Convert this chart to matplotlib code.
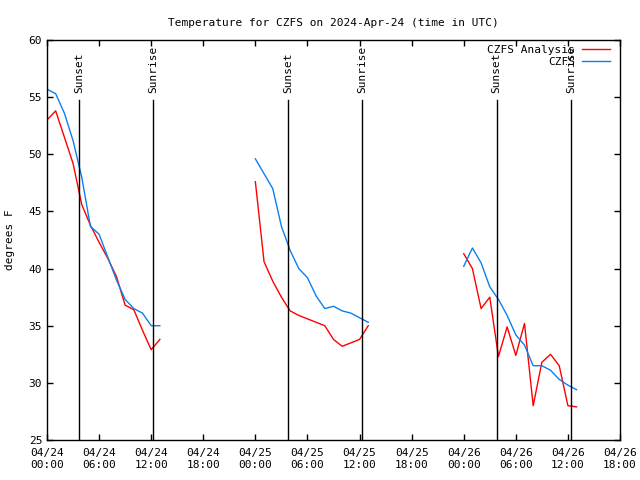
import numpy as np
import matplotlib
matplotlib.use("Agg")
import matplotlib.pyplot as plt

# hours since 2024-04-24 00:00 UTC
hours_d1 = [0, 1, 2, 3, 4, 5, 6, 7, 8, 9, 10, 11, 12, 13]
hours_d2 = [24, 25, 26, 27, 28, 29, 30, 31, 32, 33, 34, 35, 36, 37]
hours_d3 = [48, 49, 50, 51, 52, 53, 54, 55, 56, 57, 58, 59, 60, 61]

analysis_d1 = [53.0, 53.8, 51.5, 49.2, 45.6, 43.8, 42.3, 40.9, 39.3, 36.8, 36.4, 34.6, 32.9, 33.8]
analysis_d2 = [47.6, 40.6, 38.9, 37.5, 36.3, 35.9, 35.6, 35.3, 35.0, 33.8, 33.2, 33.5, 33.8, 35.0]
analysis_d3 = [41.3, 40.0, 36.5, 37.5, 32.3, 34.9, 32.4, 35.2, 28.0, 31.8, 32.5, 31.5, 28.0, 27.9]

czfs_d1 = [55.7, 55.3, 53.6, 51.2, 48.0, 43.7, 43.0, 41.0, 39.0, 37.3, 36.5, 36.1, 35.0, 35.0]
czfs_d2 = [49.6, 48.3, 47.0, 43.7, 41.6, 40.0, 39.2, 37.6, 36.5, 36.7, 36.3, 36.1, 35.7, 35.3]
czfs_d3 = [40.2, 41.8, 40.5, 38.4, 37.3, 35.9, 34.2, 33.3, 31.5, 31.5, 31.1, 30.3, 29.8, 29.4]

sunset_hours = [3.7, 27.75, 51.8]
sunrise_hours = [12.2, 36.3, 60.4]

tick_hours = list(range(0, 67, 6))
tick_labels = ["04/24\n00:00", "04/24\n06:00", "04/24\n12:00", "04/24\n18:00",
               "04/25\n00:00", "04/25\n06:00", "04/25\n12:00", "04/25\n18:00",
               "04/26\n00:00", "04/26\n06:00", "04/26\n12:00", "04/26\n18:00"]


def join(parts):
    out = []
    for i, p in enumerate(parts):
        if i > 0:
            out.append(np.nan)
        out.extend(p)
    return np.array(out, dtype=float)


plt.rcParams['font.family'] = 'DejaVu Sans Mono'
plt.rcParams['font.size'] = 8

fig = plt.figure(figsize=(6.4, 4.8), dpi=100)
ax = fig.add_axes([47 / 640, 40 / 480, 573 / 640, 400 / 480])

x = join([hours_d1, hours_d2, hours_d3])
ax.plot(x, join([analysis_d1, analysis_d2, analysis_d3]), color='#ff0000', lw=1, label='CZFS Analysis')
ax.plot(x, join([czfs_d1, czfs_d2, czfs_d3]), color='#0a80f0', lw=1, label='CZFS')

for h in sunset_hours:
    ax.plot([h, h], [25, 54.75], color='black', lw=1)
    ax.text(h, 55.4, 'Sunset', rotation=90, ha='center', va='bottom', fontsize=8)
for h in sunrise_hours:
    ax.plot([h, h], [25, 54.75], color='black', lw=1)
    ax.text(h, 55.4, 'Sunrise', rotation=90, ha='center', va='bottom', fontsize=8)

ax.set_xlim(0, 66)
ax.set_ylim(25, 60)
ax.set_xticks(tick_hours)
ax.set_xticklabels(tick_labels)
ax.set_yticks(range(25, 61, 5))
ax.tick_params(direction='in', top=True, right=True, length=4, width=1, labelsize=8)
ax.tick_params(axis='x', pad=6)
for s in ax.spines.values():
    s.set_linewidth(1)

ax.set_ylabel('degrees F', fontsize=8, labelpad=10)
ax.set_title('Temperature for CZFS on 2024-Apr-24 (time in UTC)', fontsize=8, pad=10)

leg = ax.legend(loc='upper right', bbox_to_anchor=(0.982, 0.988), frameon=False, fontsize=8,
                markerfirst=False, handlelength=2.5, borderaxespad=0.0, borderpad=0.0,
                labelspacing=0.2, handletextpad=0.6)
for t in leg.get_texts():
    t.set_ha('right')

fig.savefig('out.png', dpi=100)
